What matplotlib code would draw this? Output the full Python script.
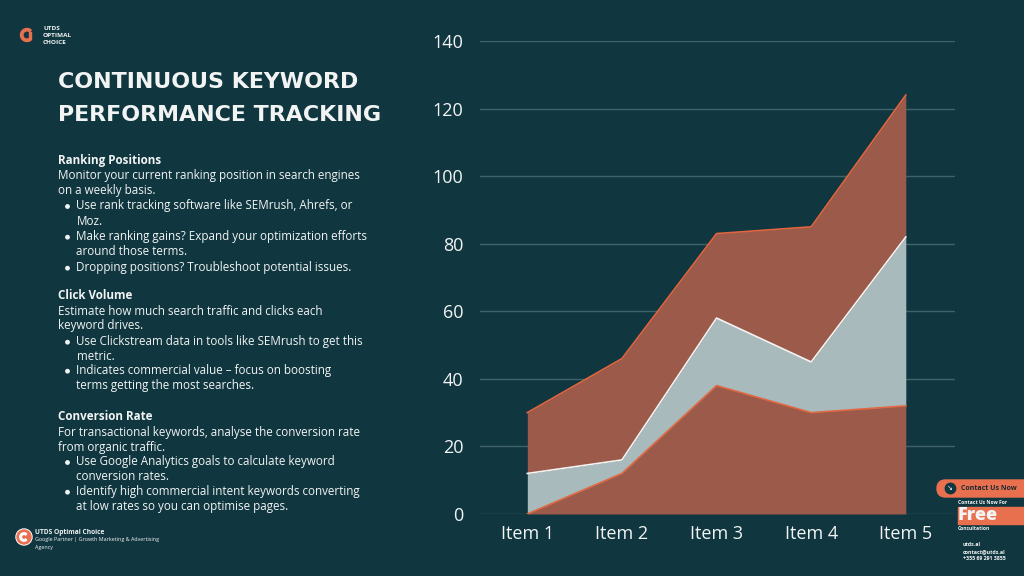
import matplotlib
matplotlib.use("Agg")
import matplotlib.pyplot as plt
from matplotlib.patches import FancyBboxPatch, Rectangle, Circle, Wedge
from matplotlib.transforms import IdentityTransform
import numpy as np

# ---- data ----
categories = ["Item 1", "Item 2", "Item 3", "Item 4", "Item 5"]
level_bottom = [0, 12, 38, 30, 32]     # top edge of lower red area
level_middle = [12, 16, 58, 45, 82]    # top edge of light area
level_top = [30, 46, 83, 85, 124]      # top edge of upper red area
y_ticks = [0, 20, 40, 60, 80, 100, 120, 140]

BG = "#10363f"
RED_FILL = "#9b5a4a"
RED_EDGE = "#e2663f"
LIGHT_FILL = "#a8babc"
TEXT = "#f2f4f4"
ORANGE = "#e8704f"

plt.rcParams['font.family'] = ['Open Sans', 'DejaVu Sans']

W, H = 1024, 576
fig = plt.figure(figsize=(10.24, 5.76), dpi=100, facecolor=BG)
PX = IdentityTransform()

def P(xp, yp):
    return (xp, H - yp)

ax = fig.add_axes([480/W, 1-514/H, (955-480)/W, (514-41)/H])
ax.set_facecolor(BG)
x = np.arange(1, len(categories) + 1)

ax.fill_between(x, 0, level_bottom, color=RED_FILL, lw=0, zorder=2)
ax.fill_between(x, level_bottom, level_middle, color=LIGHT_FILL, lw=0, zorder=2)
ax.fill_between(x, level_middle, level_top, color=RED_FILL, lw=0, zorder=2)
ax.plot(x, level_bottom, color=RED_EDGE, lw=1.2, zorder=3)
ax.plot(x, level_middle, color="#f4f4f2", lw=1.2, zorder=3)
ax.plot(x, level_top, color=RED_EDGE, lw=1.2, zorder=3)

ax.set_xlim(0.5, 5.52)
ax.set_ylim(0, 140)
ax.set_yticks(y_ticks)
ax.set_xticks(x)
ax.set_xticklabels(categories)
ax.grid(axis='y', color="#3f6369", lw=1, zorder=1)
ax.set_axisbelow(True)
for s in ax.spines.values():
    s.set_visible(False)
ax.tick_params(length=0, colors=TEXT, labelsize=13)
ax.tick_params(axis='y', pad=12)
ax.tick_params(axis='x', pad=8)

# ---- left text panel ----
def t(xp, yp, s, **kw):
    return fig.text(xp/W, 1-yp/H, s, va='center', ha='left',
                    **{'color': TEXT, **kw})

t(58, 82, "CONTINUOUS KEYWORD", fontsize=15.9, fontweight='bold',
  family=['DejaVu Sans'])
t(58, 115, "PERFORMANCE TRACKING", fontsize=15.9, fontweight='bold',
  family=['DejaVu Sans'])

body = 8.4
sections = [
    (160.7, "Ranking Positions", [
        (175.7, "Monitor your current ranking position in search engines", False),
        (190.3, "on a weekly basis.", False),
        (206.0, "Use rank tracking software like SEMrush, Ahrefs, or", True),
        (221.3, "Moz.", None),
        (236.7, "Make ranking gains? Expand your optimization efforts", True),
        (251.7, "around those terms.", None),
        (267.7, "Dropping positions? Troubleshoot potential issues.", True),
    ]),
    (295.7, "Click Volume", [
        (311.7, "Estimate how much search traffic and clicks each", False),
        (326.0, "keyword drives.", False),
        (341.7, "Use Clickstream data in tools like SEMrush to get this", True),
        (356.7, "metric.", None),
        (370.7, "Indicates commercial value \u2013 focus on boosting", True),
        (386.0, "terms getting the most searches.", None),
    ]),
    (416.7, "Conversion Rate", [
        (432.3, "For transactional keywords, analyse the conversion rate", False),
        (447.3, "from organic traffic.", False),
        (462.0, "Use Google Analytics goals to calculate keyword", True),
        (476.7, "conversion rates.", None),
        (491.7, "Identify high commercial intent keywords converting", True),
        (506.7, "at low rates so you can optimise pages.", None),
    ]),
]
for yh, head, lines in sections:
    t(58, yh, head, fontsize=body, fontweight='bold')
    for yl, s, bullet in lines:
        if bullet is False:
            t(58, yl, s, fontsize=body, fontweight='medium')
        else:
            if bullet:
                fig.patches.append(Circle(P(67.5, yl + 0.5), 1.7, transform=PX, color=TEXT))
            t(76.5, yl, s, fontsize=body, fontweight='medium')

# ---- top-left logo ----
fig.patches.append(Wedge(P(27, 35), 6.5, 50, 310, width=2.4, transform=PX, color=ORANGE))
fig.patches.append(Rectangle(P(29.2, 38.5), 1.8, 7, transform=PX, color=ORANGE))
t(43, 28, "UTDS", fontsize=4.6, fontweight='bold')
t(43, 35.5, "OPTIMAL", fontsize=4.6, fontweight='bold')
t(43, 43, "CHOICE", fontsize=4.6, fontweight='bold')

# ---- bottom-left footer ----
fig.patches.append(Circle(P(24, 537), 8, transform=PX, color="white"))
fig.patches.append(Circle(P(24, 537), 7, transform=PX, color=ORANGE))
fig.patches.append(Wedge(P(24, 537), 4.2, 50, 310, width=1.6, transform=PX, color="white"))
t(35, 532, "UTDS Optimal Choice", fontsize=4.8, fontweight='bold')
t(35, 540, "Google Partner | Growth Marketing & Advertising", fontsize=3.9)
t(35, 547, "Agency", fontsize=3.9)

# ---- bottom-right contact block ----
fig.patches.append(FancyBboxPatch(P(937, 497), 100, 17,
                                  boxstyle="round,pad=0,rounding_size=8.5",
                                  transform=PX, color=ORANGE))
fig.patches.append(Circle(P(950.5, 488.5), 5.2, transform=PX, color=BG))
t(947.3, 488.5, "\u2198", fontsize=5, color="white", family=['DejaVu Sans'])
t(961, 488, "Contact Us Now", fontsize=5.0, fontweight='bold', color="#1a2a30")
t(958, 503, "Contact Us Now For", fontsize=3.6, fontweight='bold')
fig.patches.append(Rectangle(P(958, 524), 66, 17, transform=PX, color=ORANGE))
t(958, 515.5, "Free", fontsize=13, fontweight='heavy')
t(958, 529, "Consultation", fontsize=3.6, fontweight='bold')
t(963, 545, "utds.al", fontsize=3.8, fontweight='bold')
t(963, 552, "contact@utds.al", fontsize=3.8, fontweight='bold')
t(963, 559, "+355 69 291 3855", fontsize=3.8, fontweight='bold')

fig.savefig("out.png", dpi=100, facecolor=BG)
